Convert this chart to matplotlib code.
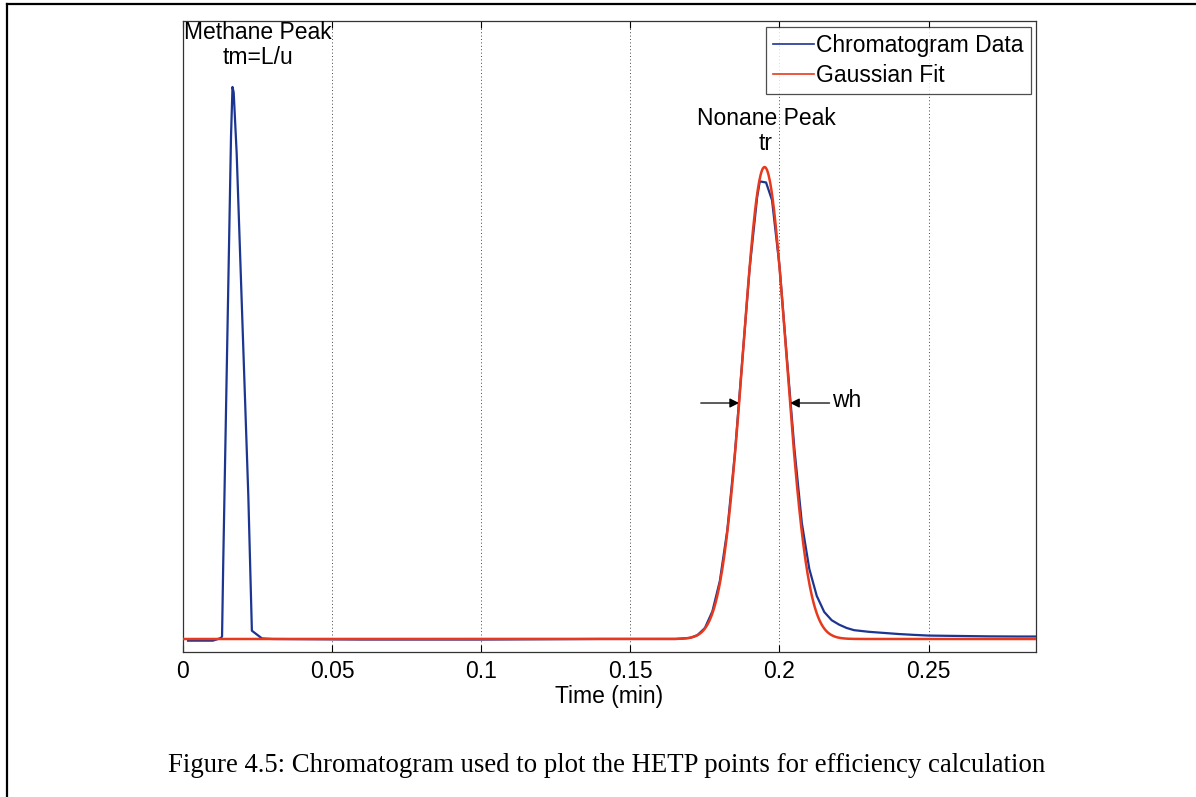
import numpy as np
import matplotlib
matplotlib.use("Agg")
import matplotlib.pyplot as plt
from matplotlib.lines import Line2D

# Measured detector signal (normalised to the methane peak height)
time_data = [0.0017, 0.0100, 0.0112, 0.0128, 0.0131, 0.0135, 0.0161, 0.0166,
             0.0170, 0.0180, 0.0219, 0.0231, 0.0265, 0.0300, 0.0600, 0.1000,
             0.1400, 0.1650, 0.1700, 0.1725, 0.1750, 0.1775, 0.1800, 0.1825,
             0.1850, 0.1875, 0.1900, 0.1925, 0.1934, 0.1955, 0.1975, 0.2000,
             0.2025, 0.2050, 0.2075, 0.2100, 0.2125, 0.2150, 0.2175, 0.2200,
             0.2225, 0.2250, 0.2300, 0.2350, 0.2400, 0.2450, 0.2500, 0.2600,
             0.2700, 0.2800, 0.2860]
signal_data = [-0.003, -0.003, -0.001, 0.002, 0.005, 0.140, 0.910, 1.000,
               0.990, 0.880, 0.260, 0.015, 0.001, 0.000, -0.001, -0.001,
               0.000, 0.000, 0.002, 0.007, 0.020, 0.050, 0.105, 0.197,
               0.333, 0.503, 0.672, 0.800, 0.829, 0.827, 0.795, 0.676,
               0.508, 0.345, 0.210, 0.127, 0.078, 0.049, 0.034, 0.026,
               0.020, 0.016, 0.013, 0.011, 0.009, 0.0075, 0.0062, 0.0055,
               0.0048, 0.0045, 0.0045]

# Gaussian fit parameters for the nonane peak
fit_amplitude = 0.855
fit_center = 0.195      # retention time tr (min)
fit_sigma = 0.00725     # standard deviation (min)

x_ticks = [0, 0.05, 0.1, 0.15, 0.2, 0.25]
x_tick_labels = ["0", "0.05", "0.1", "0.15", "0.2", "0.25"]

plt.rcParams["font.family"] = ["Liberation Sans", "DejaVu Sans"]
FS = 16.5

fig = plt.figure(figsize=(11.96, 7.97), dpi=100)
ax = fig.add_axes([0.1530, 0.1819, 0.8662 - 0.1530, 0.9737 - 0.1819])

blue = "#1c3591"
red = "#e8391d"

t_fit = np.linspace(0, 0.286, 1200)
y_fit = fit_amplitude * np.exp(-0.5 * ((t_fit - fit_center) / fit_sigma) ** 2)

ax.plot(time_data, signal_data, color=blue, lw=1.6, zorder=3)
ax.plot(t_fit, y_fit, color=red, lw=1.8, zorder=4)

ax.set_xlim(0, 0.286)
ax.set_ylim(-0.0236, 1.1196)
ax.set_xticks(x_ticks)
ax.set_xticklabels(x_tick_labels)
ax.set_yticks([])
ax.tick_params(axis="x", direction="in", top=True, length=5, width=0.8,
               labelsize=FS, pad=6)
ax.grid(axis="x", linestyle=(0, (1, 2.5)), color="#444444", lw=0.7)
for s in ax.spines.values():
    s.set_linewidth(0.9)
    s.set_color("#333333")
ax.set_xlabel("Time (min)", fontsize=FS, labelpad=1)

# Peak annotations
ax.text(0.0251, 1.099, "Methane Peak", ha="center", va="center", fontsize=FS)
ax.text(0.0251, 1.054, "tm=L/u", ha="center", va="center", fontsize=FS)
ax.text(0.1957, 0.942, "Nonane Peak", ha="center", va="center", fontsize=FS)
ax.text(0.1954, 0.897, "tr", ha="center", va="center", fontsize=FS)

half = fit_amplitude / 2
hw = fit_sigma * np.sqrt(2 * np.log(2))
arrow = dict(arrowstyle="-|>", lw=0.9, color="black", mutation_scale=14,
             shrinkA=0, shrinkB=0)
ax.annotate("", xy=(fit_center - hw, half), xytext=(0.1736, half), arrowprops=arrow)
ax.annotate("", xy=(fit_center + hw, half), xytext=(0.2168, half), arrowprops=arrow)
ax.text(0.2176, half + 0.004, "wh", ha="left", va="center", fontsize=FS)

handles = [Line2D([], [], color=blue, lw=1.2), Line2D([], [], color=red, lw=1.2)]
leg = ax.legend(handles, ["Chromatogram Data", "Gaussian Fit"], loc="upper right",
                bbox_to_anchor=(0.994, 0.990), fontsize=FS, frameon=True,
                fancybox=False, handlelength=1.8, handletextpad=0.1,
                borderpad=0.3, labelspacing=0.3, borderaxespad=0)
leg.get_frame().set_edgecolor("#222222")
leg.get_frame().set_linewidth(0.9)

fig.text(0.507, 0.040, "Figure 4.5: Chromatogram used to plot the HETP points for efficiency calculation",
         ha="center", va="center", fontsize=19.3, family="Liberation Serif")

# Page frame lines (top and left)
fig.add_artist(Line2D([7 / 1196, 1.0], [1 - 4 / 797, 1 - 4 / 797],
                      transform=fig.transFigure, color="black", lw=1.6))
fig.add_artist(Line2D([7 / 1196, 7 / 1196], [0, 1 - 4 / 797],
                      transform=fig.transFigure, color="black", lw=1.6))

fig.savefig("out.png", dpi=100)
